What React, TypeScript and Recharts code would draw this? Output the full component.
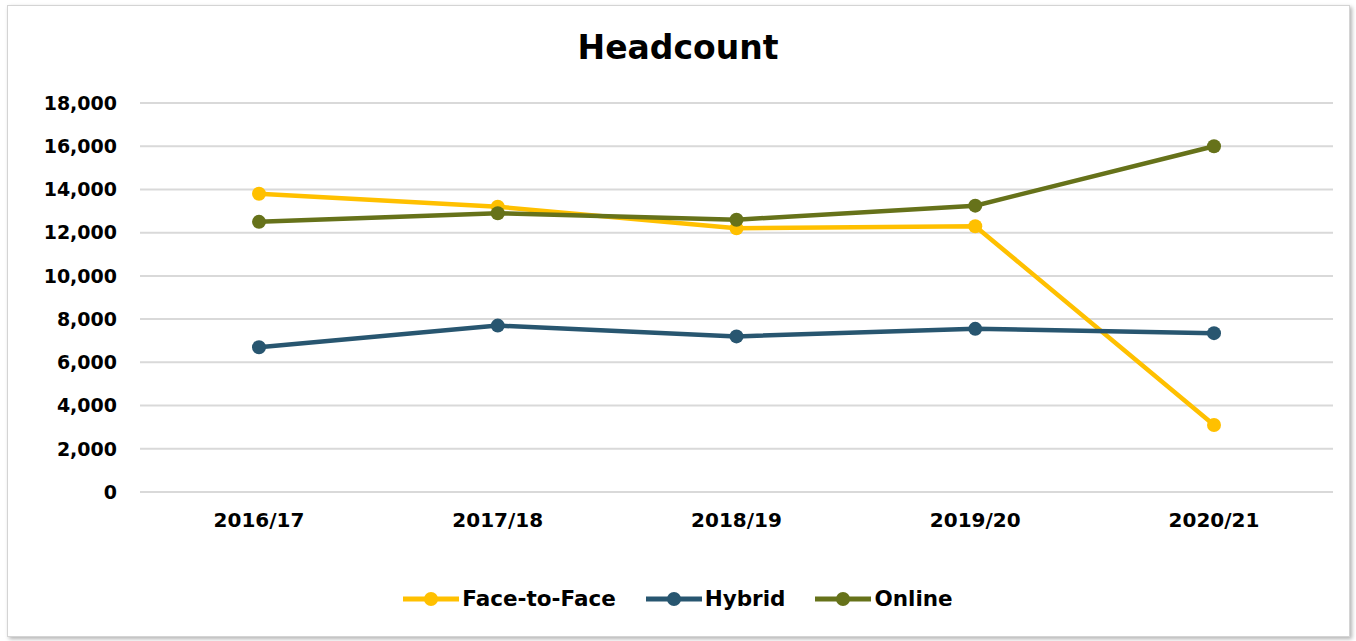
import { LineChart, Line, XAxis, YAxis, CartesianGrid, Legend } from 'recharts'

const years = ['2016/17', '2017/18', '2018/19', '2019/20', '2020/21']
const faceToFace = [13800, 13200, 12200, 12300, 3100]
const hybrid = [6700, 7700, 7200, 7550, 7350]
const online = [12500, 12900, 12600, 13250, 16000]
const yTicks = [0, 2000, 4000, 6000, 8000, 10000, 12000, 14000, 16000, 18000]

const data = years.map((year, i) => ({
  year,
  'Face-to-Face': faceToFace[i],
  Hybrid: hybrid[i],
  Online: online[i],
}))

const FONT = '"DejaVu Sans", sans-serif'

const seriesColors: Record<string, string> = {
  'Face-to-Face': '#FFC000',
  Hybrid: '#285670',
  Online: '#66721A',
}

function renderLegend(props: any) {
  const payload = props.payload || []
  return (
    <div style={{ display: 'flex', justifyContent: 'center', gap: 30, fontFamily: FONT }}>
      {payload.map((p: any) => (
        <div key={p.value} style={{ display: 'flex', alignItems: 'center' }}>
          <svg width={56} height={18}>
            <line x1={0} y1={9} x2={56} y2={9} stroke={p.color} strokeWidth={5} strokeLinecap="round" />
            <circle cx={28} cy={9} r={7} fill={p.color} />
          </svg>
          <span style={{ marginLeft: 3, fontSize: 21.5, fontWeight: 700, color: '#000' }}>{p.value}</span>
        </div>
      ))}
    </div>
  )
}

export default function App() {
  return (
    <div style={{ position: 'fixed', top: 0, left: 0, width: 1356, height: 641, background: '#fff' }}>
      <div
        style={{
          position: 'absolute',
          left: 7,
          top: 5,
          width: 1341,
          height: 630,
          border: '1px solid #d4d4d4',
          boxShadow: '2px 2px 4px rgba(0,0,0,0.3)',
          background: '#fff',
        }}
      />
      <div
        style={{
          position: 'absolute',
          top: 28,
          left: 0,
          width: 1356,
          textAlign: 'center',
          fontFamily: FONT,
          fontWeight: 700,
          fontSize: 33,
          color: '#000',
        }}
      >
        Headcount
      </div>
      <div style={{ position: 'absolute', top: 0, left: 0 }}>
        <LineChart width={1356} height={641} data={data} margin={{ top: 103, right: 23, bottom: 99, left: 0 }}>
          <CartesianGrid vertical={false} stroke="#d9d9d9" strokeWidth={2} />
          <XAxis
            dataKey="year"
            height={50}
            axisLine={false}
            tickLine={false}
            tickMargin={15}
            padding={{ left: 119, right: 119 }}
            tick={{ fontSize: 20, fontWeight: 700, fill: '#000', fontFamily: FONT }}
          />
          <YAxis
            width={140}
            domain={[0, 18000]}
            ticks={yTicks}
            axisLine={false}
            tickLine={false}
            tickMargin={17}
            tickFormatter={(v: number) => v.toLocaleString('en-US')}
            tick={{ fontSize: 19, fontWeight: 700, fill: '#000', fontFamily: FONT }}
          />
          <Legend
            verticalAlign="middle"
            align="center"
            content={renderLegend}
            wrapperStyle={{ top: 586, left: 0, width: 1356 }}
          />
          {Object.keys(seriesColors).map((key) => (
            <Line
              key={key}
              dataKey={key}
              stroke={seriesColors[key]}
              strokeWidth={4.5}
              dot={{ r: 7, fill: seriesColors[key], stroke: seriesColors[key], strokeWidth: 0 }}
              activeDot={false}
              isAnimationActive={false}
            />
          ))}
        </LineChart>
      </div>
    </div>
  )
}
